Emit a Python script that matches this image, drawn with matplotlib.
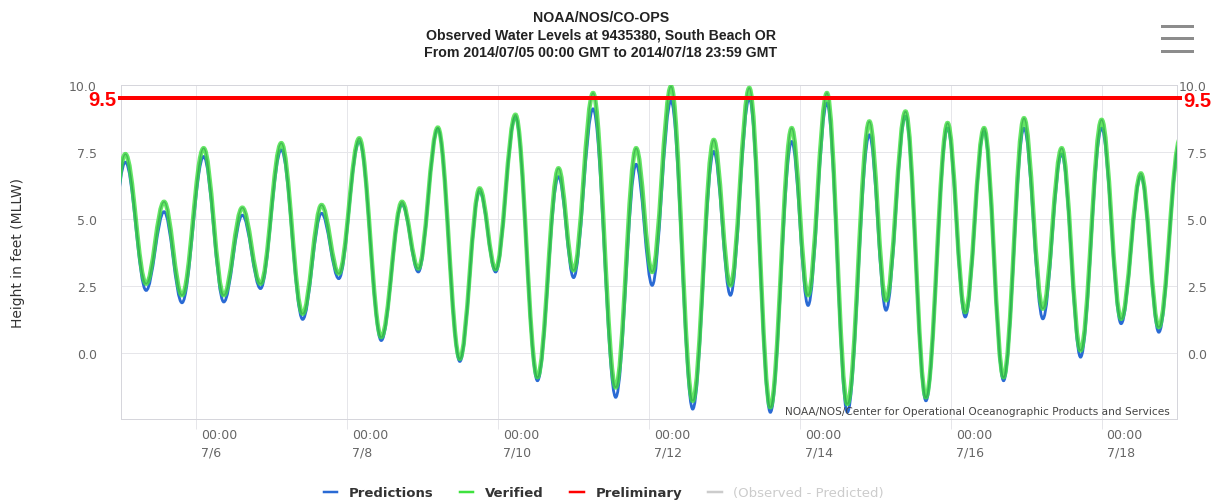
from datetime import datetime, timedelta
import numpy as np
import matplotlib
matplotlib.use("Agg")
import matplotlib.pyplot as plt
import matplotlib.dates as mdates
import matplotlib.transforms as mtransforms
from matplotlib.path import Path
from matplotlib.patches import PathPatch
from matplotlib.lines import Line2D
from matplotlib.ticker import FuncFormatter

# ── Data: tide turning points ────────────────────────────────────────
START = datetime(2014, 7, 5, 0, 0)
END   = datetime(2014, 7, 18, 23, 59)

# hours after 2014-07-05 00:00 GMT of each high / low water
extreme_hours = [-5.0, 1.4, 8.0, 13.7, 19.4, 26.3, 32.7, 38.6, 44.4, 51.0,
                 57.8, 63.8, 69.3, 75.8, 82.8, 89.4, 94.6, 100.8, 107.8, 114.1,
                 119.2, 125.5, 132.5, 139.2, 144.0, 150.2, 157.4, 163.9, 169.0, 175.0,
                 181.9, 188.6, 193.9, 199.9, 206.6, 213.4, 218.6, 224.6, 231.1, 238.1,
                 243.4, 249.6, 256.1, 263.0, 268.6, 274.6, 280.8, 287.3, 293.3, 299.3,
                 305.3, 312.0, 318.2, 324.5, 330.2, 337.0]

predicted_ft = [2.50, 7.12, 2.33, 5.27, 1.87, 7.33, 1.90, 5.14, 2.40, 7.58,
                1.25, 5.21, 2.77, 7.89, 0.46, 5.54, 3.02, 8.36, -0.32, 6.02,
                3.02, 8.79, -1.04, 6.58, 2.81, 9.11, -1.66, 7.04, 2.52, 9.41,
                -2.10, 7.52, 2.15, 9.51, -2.22, 7.89, 1.77, 9.33, -2.22, 8.14,
                1.59, 8.83, -1.79, 8.39, 1.34, 8.26, -1.04, 8.39, 1.27, 7.42,
                -0.16, 8.39, 1.09, 6.58, 0.77, 7.90]

verified_ft = [2.80, 7.42, 2.58, 5.64, 2.15, 7.64, 2.15, 5.42, 2.58, 7.83,
               1.46, 5.52, 2.96, 8.01, 0.59, 5.64, 3.15, 8.41, -0.22, 6.14,
               3.12, 8.89, -0.91, 6.89, 3.08, 9.70, -1.29, 7.64, 3.02, 9.95,
               -1.79, 7.95, 2.52, 9.89, -2.03, 8.39, 2.15, 9.70, -1.91, 8.64,
               1.96, 9.01, -1.66, 8.58, 1.52, 8.39, -0.91, 8.76, 1.65, 7.64,
               0.09, 8.70, 1.27, 6.70, 0.96, 8.00]

THRESHOLD = 9.5
Y_TICKS = [0.0, 2.5, 5.0, 7.5, 10.0]
TICK_DAYS = [6, 8, 10, 12, 14, 16, 18]

BLUE, GREEN, RED = "#2a6ad4", "#3ee23e", "#ff0000"
GRID, SPINE, LABEL = "#e6e6ea", "#d6d6dc", "#666666"
PX = 0.72  # points per pixel at dpi=100
K_BEZ = 1 - 2 / np.pi  # cubic handle length that mimics a cosine half-wave

plt.rcParams["font.family"] = "DejaVu Sans"


def tide_path(hours, heights):
    """Smooth curve through the turning points (flat at every extreme)."""
    t = mdates.date2num([START + timedelta(hours=h) for h in hours])
    verts = [(t[0], heights[0])]
    codes = [Path.MOVETO]
    for i in range(1, len(t)):
        dt = t[i] - t[i - 1]
        verts += [(t[i - 1] + K_BEZ * dt, heights[i - 1]),
                  (t[i] - K_BEZ * dt, heights[i]),
                  (t[i], heights[i])]
        codes += [Path.CURVE4] * 3
    return Path(verts, codes)


fig = plt.figure(figsize=(12.14, 5.02), dpi=100)
ax = fig.add_axes([121 / 1214, 1 - 420 / 502, 1056 / 1214, 334 / 502])

ax.add_patch(PathPatch(tide_path(extreme_hours, predicted_ft), facecolor="none",
                       edgecolor=BLUE, lw=2.8 * PX, zorder=3))
ax.add_patch(PathPatch(tide_path(extreme_hours, verified_ft), facecolor="none",
                       edgecolor=GREEN, lw=4.4 * PX, alpha=0.8, zorder=4))
ax.add_patch(PathPatch(tide_path(extreme_hours, verified_ft), facecolor="none",
                       edgecolor="#2f9f48", lw=1.4 * PX, alpha=0.6, zorder=4))

ax.axhline(THRESHOLD, xmin=-0.001, xmax=1.003, color=RED, lw=4 * PX,
           clip_on=False, zorder=6)
bt = mtransforms.blended_transform_factory(ax.transAxes, ax.transData)
for x, ha, dy in [(-0.0045, "right", 0.05), (1.0055, "left", 0.09)]:
    ax.text(x, THRESHOLD - dy, f"{THRESHOLD}", transform=bt, ha=ha, va="center",
            color=RED, fontsize=14.5, fontweight="bold",
            family="Liberation Sans", zorder=7)

ax.set_xlim(mdates.date2num(START), mdates.date2num(END))
ax.set_ylim(-2.47, 10.0)

# axes look
for sp in ax.spines.values():
    sp.set_color(SPINE)
    sp.set_linewidth(1 * PX)
ax.grid(True, color=GRID, lw=1 * PX)
ax.set_axisbelow(True)

ax.set_xticks(mdates.date2num([datetime(2014, 7, d) for d in TICK_DAYS]))
ax.xaxis.set_major_formatter(FuncFormatter(
    lambda v, pos: (lambda d: f"{d:%H:%M}\n{d.month}/{d.day}")(mdates.num2date(v))))
ax.tick_params(axis="x", length=10 * PX, width=1 * PX, color=GRID,
               labelsize=9, labelcolor=LABEL, pad=-1)
shift = mtransforms.ScaledTranslation(0.05, 0, fig.dpi_scale_trans)
for lab in ax.get_xticklabels():
    lab.set_horizontalalignment("left")
    lab.set_linespacing(1.45)
    lab.set_transform(lab.get_transform() + shift)

ax.set_yticks(Y_TICKS)
ax.yaxis.set_major_formatter(FuncFormatter(lambda v, pos: f"{v:.1f}"))
ax.tick_params(axis="y", length=0, labelsize=9, labelcolor=LABEL, pad=24 * PX)

ax2 = ax.twinx()
ax2.set_ylim(ax.get_ylim())
ax2.set_yticks(Y_TICKS)
ax2.yaxis.set_major_formatter(FuncFormatter(lambda v, pos: f"{v:.1f}"))
ax2.tick_params(axis="y", length=0, labelsize=9, labelcolor=LABEL, pad=30 * PX)
for lab in ax2.get_yticklabels():
    lab.set_horizontalalignment("right")
for sp in ax2.spines.values():
    sp.set_visible(False)

ax.text(0.9934, 0.024, "NOAA/NOS/Center for Operational Oceanographic Products and Services",
        transform=ax.transAxes, ha="right", va="center", fontsize=7.6,
        color="#444444", zorder=5)

# titles / labels
title_lines = ["NOAA/NOS/CO-OPS",
               "Observed Water Levels at 9435380, South Beach OR",
               "From 2014/07/05 00:00 GMT to 2014/07/18 23:59 GMT"]
for line, y in zip(title_lines, [18, 36, 53]):
    fig.text(601 / 1214, 1 - y / 502, line, ha="center", va="center",
             fontsize=10.2, fontweight="bold", family="Liberation Sans",
             color="#222222")
fig.text(18 / 1214, 1 - 253 / 502, "Height in feet (MLLW)", rotation=90,
         ha="center", va="center", fontsize=10, color="#333333")

# menu icon
for y in (27, 39, 52):
    fig.add_artist(Line2D([1162 / 1214, 1192 / 1214], [1 - y / 502] * 2,
                          color="#8c8c8c", lw=3 * PX))

handles = [Line2D([], [], color=BLUE, lw=2.5 * PX),
           Line2D([], [], color=GREEN, lw=2.5 * PX),
           Line2D([], [], color=RED, lw=2.5 * PX),
           Line2D([], [], color="#cccccc", lw=2.5 * PX)]
labels = ["Predictions", "Verified", "Preliminary", "(Observed - Predicted)"]
leg = fig.legend(handles, labels, loc="center", bbox_to_anchor=(604 / 1214, 1 - 494 / 502),
                 ncol=4, frameon=False, handlelength=1.0, handletextpad=0.9,
                 columnspacing=2.0, prop={"weight": "bold", "size": 9.5})
for t in leg.get_texts():
    t.set_color("#333333")
leg.get_texts()[3].set_color("#cccccc")
leg.get_texts()[3].set_fontweight("normal")

fig.savefig("out.png", dpi=100)
